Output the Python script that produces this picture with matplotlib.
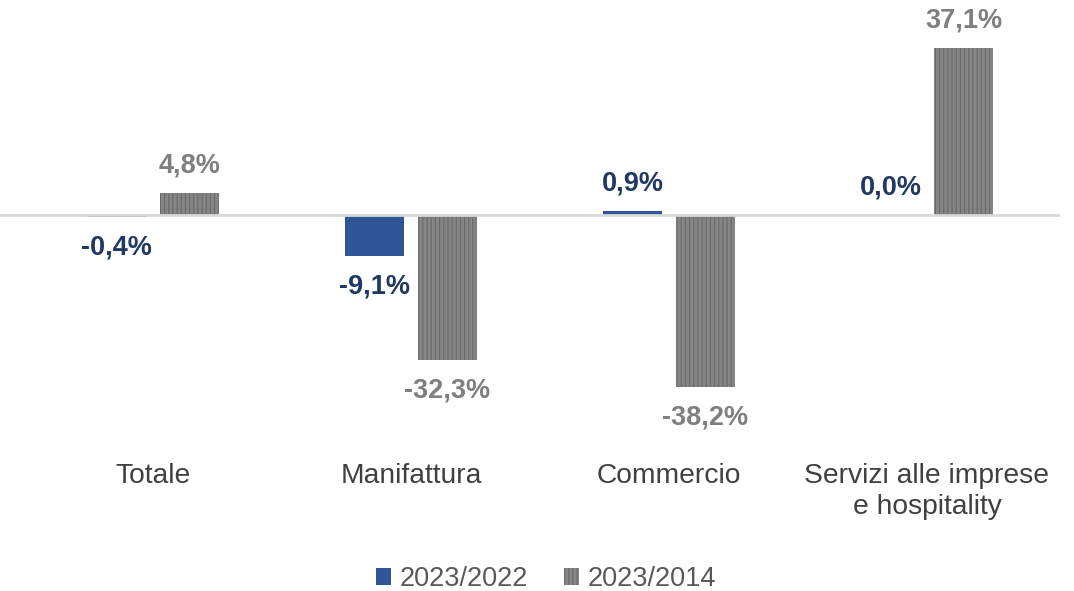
import numpy as np
import matplotlib
matplotlib.use('Agg')
import matplotlib.pyplot as plt

plt.rcParams['font.family'] = ['Liberation Sans', 'DejaVu Sans']
plt.rcParams['hatch.linewidth'] = 0.8

# dati
categorie = ['Totale', 'Manifattura', 'Commercio', 'Servizi alle imprese\ne hospitality']
var_2023_2022 = [-0.4, -9.1, 0.9, 0.0]
var_2023_2014 = [4.8, -32.3, -38.2, 37.1]
etichette_serie = ['2023/2022', '2023/2014']

blu = '#2F5597'
blu_testo = '#203864'
grigio = '#7F7F7F'

fig = plt.figure(figsize=(10.74, 5.91), dpi=100)
ax = fig.add_axes([0, 0, 1060 / 1074, 1])

x = np.arange(len(categorie))
w = 0.225
off = 0.1415

b1 = ax.bar(x - off, var_2023_2022, w, color=blu, label=etichette_serie[0], zorder=2)
b2 = ax.bar(x + off, var_2023_2014, w, color='#858585', edgecolor='#6A6A6A',
            hatch='||||', linewidth=0, label=etichette_serie[1], zorder=2)

ax.axhline(0, color='#D9D9D9', linewidth=2, zorder=3)

def fmt(v):
    return f'{v:.1f}%'.replace('.', ',')

for xi, v in zip(x - off, var_2023_2022):
    dy = -22 if v < 0 else 20
    ax.annotate(fmt(v), (xi, v), xytext=(0, dy), textcoords='offset points',
                ha='center', va='center', fontsize=19.5, fontweight='bold', color=blu_testo)
for xi, v in zip(x + off, var_2023_2014):
    dy = -22 if v < 0 else 20
    ax.annotate(fmt(v), (xi, v), xytext=(0, dy), textcoords='offset points',
                ha='center', va='center', fontsize=19.5, fontweight='bold', color=grigio)

for xi, c in zip(x, categorie):
    ax.text(xi, -55.2, c, ha='center', va='top', fontsize=20.3, color='#404040',
            linespacing=1.22)

ax.set_xlim(-153 / 258, 907 / 258)
ax.set_ylim(-(591 - 215) / 4.5, 215 / 4.5)
ax.axis('off')

leg = fig.legend(loc='center', bbox_to_anchor=(546 / 1074, 12 / 591), ncol=2,
                 frameon=False, fontsize=19.5, handlelength=0.55, handleheight=0.55,
                 handletextpad=0.3, columnspacing=1.35, labelcolor='#595959')

plt.savefig('out.png', dpi=100)
